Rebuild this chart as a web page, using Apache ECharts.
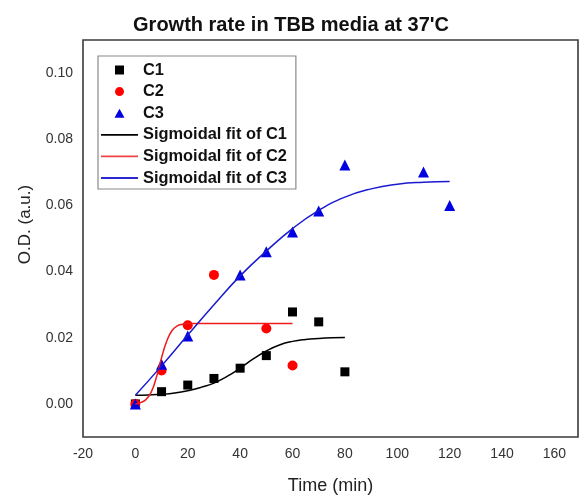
<!DOCTYPE html>
<html>
<head>
<meta charset="utf-8">
<script src="https://cdn.jsdelivr.net/npm/echarts@6/dist/echarts.min.js"></script>
<style>
  html, body { margin: 0; padding: 0; background: #fff; }
  #chart { width: 582px; height: 500px; }
</style>
</head>
<body>
<div id="chart"></div>
<script>
// Measured optical density (a.u.) at each time point (min)
const c1 = [[0, 0.000], [10, 0.0037], [20, 0.0057], [30, 0.0077], [40, 0.0108], [50, 0.0146], [60, 0.0278], [70, 0.0248], [80, 0.0097]];
const c2 = [[0, 0.000], [10, 0.0101], [20, 0.0238], [30, 0.0390], [50, 0.0228], [60, 0.0116]];
const c3 = [[0, 0.000], [10, 0.0120], [20, 0.0205], [40, 0.0390], [50, 0.0460], [60, 0.0520], [70, 0.0583], [80, 0.0722], [110, 0.0701], [120, 0.0600]];

// Sigmoidal fit curves, sampled along time
const fit1 = [[0, 0.0026], [5, 0.0027], [10, 0.0029], [15, 0.0033], [20, 0.0040], [25, 0.0050], [30, 0.0063], [35, 0.0083], [40, 0.0108], [45, 0.0136], [50, 0.0160], [55, 0.0178], [60, 0.0189], [65, 0.0195], [70, 0.0198], [75, 0.0200], [80, 0.0201]];
const fit2 = [[0, 0.0000], [2, 0.0004], [4, 0.0013], [6, 0.0035], [8, 0.0080], [10, 0.0140], [12, 0.0190], [14, 0.0222], [16, 0.0236], [18, 0.0241], [20, 0.0243], [30, 0.0243], [40, 0.0243], [50, 0.0243], [60, 0.0243]];
const fit3 = [[0, 0.0026], [10, 0.0115], [20, 0.0208], [30, 0.0300], [40, 0.0387], [50, 0.0462], [60, 0.0530], [70, 0.0585], [80, 0.0625], [90, 0.0650], [100, 0.0664], [110, 0.0670], [120, 0.0672]];

const xTicks = { min: -20, max: 169, step: 20 };
const yTicks = { min: -0.01, max: 0.11, step: 0.01 };

const FONT = 'Arial, "Liberation Sans", Helvetica, sans-serif';

// Legend glyphs: unit shapes that keep their proportions inside the icon box
const ICON_SQUARE = 'path://M0,0H1V1H0Z';
const ICON_TRIANGLE = 'path://M0.5,0L1,0.9H0Z';
const ICON_LINE = 'path://M0,0H37V1.8H0Z';

const chart = echarts.init(document.getElementById('chart'), null, { renderer: 'canvas' });

const axisFont = { fontFamily: FONT, fontSize: 14, color: '#333' };

chart.setOption({
  animation: false,
  backgroundColor: '#fff',
  title: {
    text: "Growth rate in TBB media at 37'C",
    left: 'center',
    top: 10,
    textStyle: { fontFamily: FONT, fontSize: 20, fontWeight: 'bold', color: '#111' }
  },
  grid: {
    left: 83, right: 4, top: 40, bottom: 61,
    show: true, borderColor: '#3a3a3a', borderWidth: 1.6, backgroundColor: '#fff'
  },
  legend: {
    orient: 'vertical',
    left: 98, top: 56,
    padding: [6, 9, 3, 3],
    itemWidth: 37, itemHeight: 9,
    itemGap: 5.6,
    symbolKeepAspect: true,
    borderColor: '#8a8a8a', borderWidth: 1.2,
    textStyle: { fontFamily: FONT, fontSize: 16.4, fontWeight: 'bold', color: '#111' },
    data: [
      { name: 'C1', icon: ICON_SQUARE },
      { name: 'C2', icon: 'circle' },
      { name: 'C3', icon: ICON_TRIANGLE },
      { name: 'Sigmoidal fit of C1', icon: ICON_LINE },
      { name: 'Sigmoidal fit of C2', icon: ICON_LINE },
      { name: 'Sigmoidal fit of C3', icon: ICON_LINE }
    ]
  },
  xAxis: {
    type: 'value',
    min: xTicks.min, max: xTicks.max, interval: xTicks.step,
    name: 'Time (min)', nameLocation: 'middle', nameGap: 40,
    nameTextStyle: { fontFamily: FONT, fontSize: 18, color: '#222' },
    axisLine: { show: false },
    axisTick: { show: false },
    splitLine: { show: false },
    axisLabel: Object.assign({ margin: 10, showMaxLabel: false }, axisFont)
  },
  yAxis: {
    type: 'value',
    min: yTicks.min, max: yTicks.max, interval: yTicks.step,
    name: 'O.D. (a.u.)', nameLocation: 'middle', nameGap: 49,
    nameTextStyle: { fontFamily: FONT, fontSize: 17, color: '#222', padding: [0, 0, 0, 28] },
    axisLine: { show: false },
    axisTick: { show: false },
    splitLine: { show: false },
    axisLabel: Object.assign({
      margin: 10,
      formatter: function (v) {
        const k = Math.round(v * 100);
        return (k >= 0 && k % 2 === 0) ? (k / 100).toFixed(2) : '';
      }
    }, axisFont)
  },
  series: [
    { name: 'C1', type: 'scatter', data: c1, symbol: 'rect', symbolSize: 9, itemStyle: { color: '#000', opacity: 1 }, z: 3 },
    { name: 'C2', type: 'scatter', data: c2, symbol: 'circle', symbolSize: 10, itemStyle: { color: '#f00', opacity: 1 }, z: 3 },
    { name: 'C3', type: 'scatter', data: c3, symbol: 'triangle', symbolSize: 11, itemStyle: { color: '#0000e0', opacity: 1 }, z: 3 },
    { name: 'Sigmoidal fit of C1', type: 'line', data: fit1, smooth: true, symbol: 'none', lineStyle: { color: '#000', width: 1.5 }, itemStyle: { color: '#000' }, z: 4 },
    { name: 'Sigmoidal fit of C2', type: 'line', data: fit2, smooth: true, symbol: 'none', lineStyle: { color: '#ee1c1c', width: 1.5 }, itemStyle: { color: '#ee4444' }, z: 4 },
    { name: 'Sigmoidal fit of C3', type: 'line', data: fit3, smooth: true, symbol: 'none', lineStyle: { color: '#1a1ad0', width: 1.5 }, itemStyle: { color: '#2a2ad0' }, z: 4 }
  ]
});
</script>
</body>
</html>
